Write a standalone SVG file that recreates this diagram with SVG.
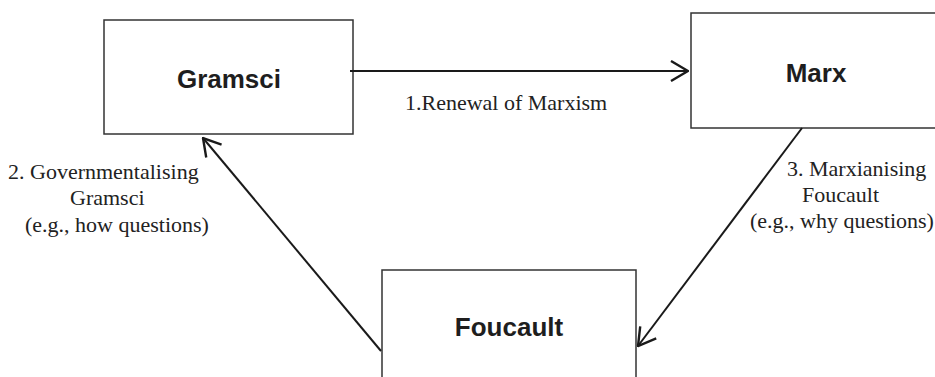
<svg xmlns="http://www.w3.org/2000/svg" width="935" height="377" viewBox="0 0 935 377">
  <defs>
    <style>
      .box { fill: #ffffff; stroke: #333333; stroke-width: 1.5; }
      .title { font-family: "Liberation Sans", Arial, sans-serif; font-weight: bold; font-size: 26px; fill: #1e1e1e; text-anchor: middle; }
      .lbl { font-family: "Liberation Serif", "Times New Roman", serif; font-size: 22px; fill: #222222; }
      .conn { stroke: #1a1a1a; stroke-width: 2; fill: none; }
    </style>
    <marker id="open" viewBox="0 0 19 22" refX="18" refY="11" markerWidth="19" markerHeight="22" markerUnits="userSpaceOnUse" orient="auto">
      <path d="M1,1 L18,11 L1,21" fill="none" stroke="#1a1a1a" stroke-width="2.4"/>
    </marker>
  </defs>
  <rect width="935" height="377" fill="#ffffff"/>

  <g id="gramsci">
    <rect class="box" x="104" y="20" width="249" height="114"/>
    <text class="title" x="229" y="88">Gramsci</text>
  </g>
  <g id="marx">
    <rect class="box" x="691" y="13" width="260" height="115"/>
    <text class="title" x="816" y="82">Marx</text>
  </g>
  <g id="foucault">
    <rect class="box" x="382" y="270" width="254" height="120"/>
    <text class="title" x="509" y="336">Foucault</text>
  </g>

  <g id="connectors">
    <line class="conn" x1="350" y1="71" x2="688" y2="71" marker-end="url(#open)"/>
    <line class="conn" x1="381" y1="351" x2="203" y2="138" marker-end="url(#open)"/>
    <line class="conn" x1="802" y1="128" x2="638" y2="346" marker-end="url(#open)"/>
  </g>

  <g id="labels">
    <text class="lbl" x="405" y="110">1.Renewal of Marxism</text>
    <text class="lbl" x="8" y="179">2. Governmentalising</text>
    <text class="lbl" x="70" y="205">Gramsci</text>
    <text class="lbl" x="25" y="232">(e.g., how questions)</text>
    <text class="lbl" x="787" y="176">3. Marxianising</text>
    <text class="lbl" x="802" y="202">Foucault</text>
    <text class="lbl" x="750" y="228">(e.g., why questions)</text>
  </g>
</svg>
